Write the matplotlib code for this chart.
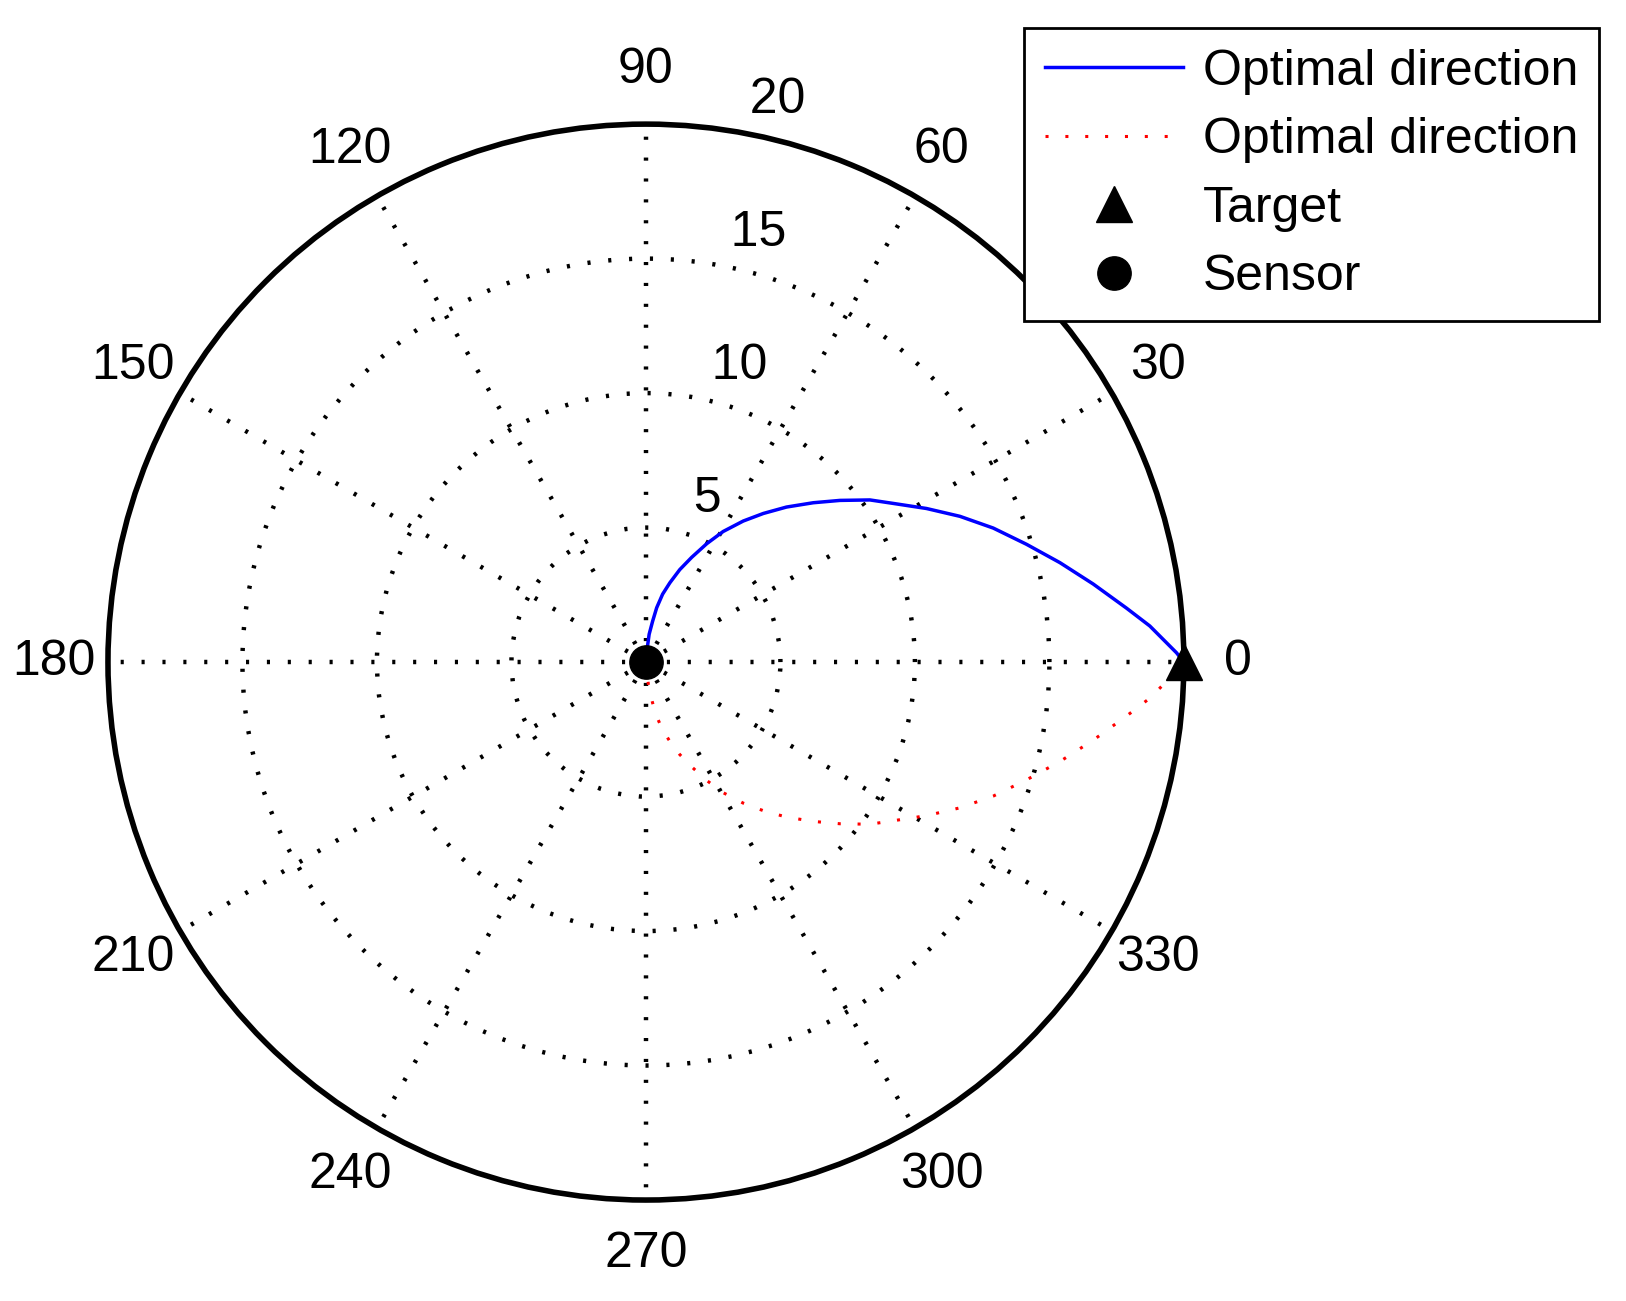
import numpy as np
from matplotlib import pyplot as plt

plt.rcParams['font.family'] = ['Liberation Sans', 'DejaVu Sans']

# optimal path (upper branch)
path_theta_deg = [90, 84.6, 83.4, 80.7, 78.8, 76.2, 73.2, 69.9, 66.4, 62.8,
                  59.4, 55.4, 51.7, 47.8, 43.6, 39.8, 35.9, 32.7, 28.7, 24.9,
                  21.1, 17.2, 13.5, 9.9, 6.4, 4.1, 1.0, 0]
path_rho = [0, 0.53, 1.04, 1.54, 2.06, 2.60, 3.08, 3.66, 4.25, 4.95,
            5.64, 6.37, 7.04, 7.78, 8.59, 9.39, 10.28, 10.92, 11.89, 12.87,
            13.84, 14.81, 15.83, 16.88, 17.98, 18.78, 19.73, 20]

target_theta_deg = 0
target_rho = 20
sensor_theta_deg = 0
sensor_rho = 0

rmax = 20
ring_values = [5, 10, 15]
ring_labels = ['5', '10', '15', '20']
ring_label_values = [5, 10, 15, 20]
spoke_angles = [0, 30, 60, 90, 120, 150, 180, 210, 240, 270, 300, 330]
spoke_labels = ['0', '30', '60', '90', '120', '150', '180', '210', '240', '270', '300', '330']
legend_labels = ['Optimal direction', 'Optimal direction', 'Target', 'Sensor']

FS = 36

def main():
    fig = plt.figure(figsize=(16.26, 13.01), dpi=100)
    ax = fig.add_axes([0.0664, 0.0776, 0.6617, 0.827], projection='polar')

    th = np.deg2rad(path_theta_deg)
    l1, = ax.plot(th, path_rho, color='blue', lw=2.5, zorder=3)
    l2, = ax.plot(-th, path_rho, color='red', lw=2.2, ls=(0, (1, 5.5)), zorder=3)
    l3, = ax.plot(np.deg2rad(target_theta_deg), target_rho, '^', color='black',
                  markersize=26, zorder=5, clip_on=False)
    l4, = ax.plot(np.deg2rad(sensor_theta_deg), sensor_rho, 'o', color='black',
                  markersize=24, zorder=5)

    ax.set_ylim(0, rmax)
    ax.set_rticks(ring_values)
    ax.set_thetagrids(spoke_angles, [''] * len(spoke_angles))
    ax.set_yticklabels([])
    ax.grid(True, color='black', lw=3.2, ls=(0, (0.7, 4.0)))
    ax.spines['polar'].set_linewidth(4)
    ax.tick_params(length=0)

    for a, lab in zip(spoke_angles, spoke_labels):
        ax.text(np.deg2rad(a), rmax * 1.1, lab, ha='center', va='center',
                fontsize=FS, clip_on=False)
    for v, lab in zip(ring_label_values, ring_labels):
        ax.text(np.deg2rad(82), v + rmax / 80, '  ' + lab, ha='left', va='bottom',
                fontsize=FS, clip_on=False)

    leg = fig.legend([l1, l2, l3, l4], legend_labels, loc='upper right',
                     bbox_to_anchor=(0.9834, 0.9785), fontsize=FS, frameon=True,
                     fancybox=False, edgecolor='black', framealpha=1,
                     handlelength=2.75, handletextpad=0.4, labelspacing=0.45,
                     borderpad=0.42, borderaxespad=0)
    leg.get_frame().set_linewidth(2)

    fig.savefig('out.png', dpi=100)


if __name__ == "__main__":
    main()
